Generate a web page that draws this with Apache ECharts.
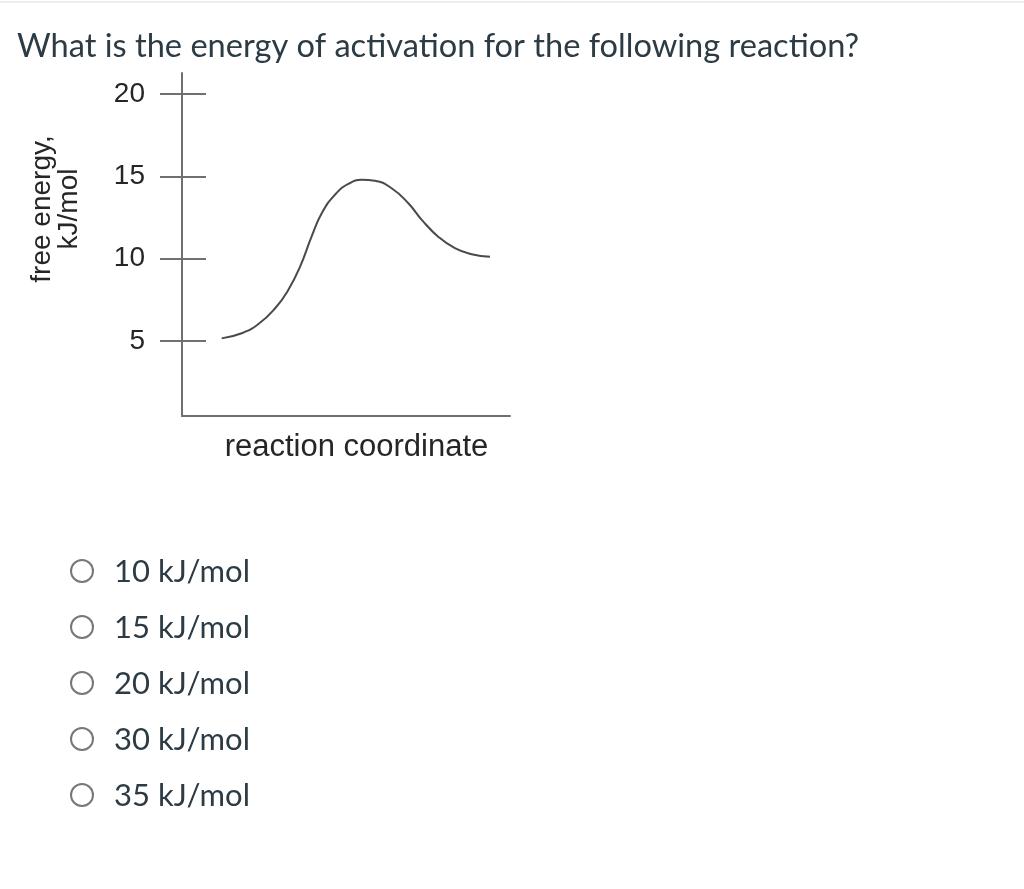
<!DOCTYPE html>
<html>
<head>
<meta charset="utf-8">
<style>
  html, body { margin: 0; padding: 0; background: #ffffff; }
  #chart { width: 1024px; height: 889px; }
</style>
<script src="https://cdn.jsdelivr.net/npm/echarts@6/dist/echarts.min.js"></script>
</head>
<body>
<div id="chart"></div>
<script>
// ---- data ----
var questionText = 'What is the energy of activation for the following reaction?';
var yTitleLines = ['free energy,', 'kJ/mol'];
var xTitle = 'reaction coordinate';
var yTickValues = [5, 10, 15, 20];
var curveX = [12.1, 18.2, 23.3, 28.4, 32.4, 36.0, 39.5, 42.6, 46.6, 50.7, 54.8, 58.8, 63.9, 69.0, 73.1, 78.1, 83.2, 88.3, 93.9];
var curveY = [5.16, 5.47, 6.03, 6.99, 8.1, 9.52, 11.34, 12.76, 13.88, 14.54, 14.79, 14.73, 14.28, 13.37, 12.36, 11.34, 10.64, 10.27, 10.12];
var answerChoices = ['10 kJ/mol', '15 kJ/mol', '20 kJ/mol', '30 kJ/mol', '35 kJ/mol'];

var curveData = curveX.map(function (x, i) { return [x, curveY[i]]; });

var chart = echarts.init(document.getElementById('chart'), null, { renderer: 'canvas' });

var axisGray = '#707070';
var chartText = '#262626';
var pageText = '#2d3b45';

var graphics = [
  { type: 'rect', shape: { x: 0, y: 1, width: 1024, height: 2 }, style: { fill: '#eeeeee' }, silent: true },
  {
    type: 'text', x: 17, y: 46,
    style: { text: questionText, font: '32.6px Lato', fill: pageText, textVerticalAlign: 'middle', textAlign: 'left' }
  },
  {
    type: 'text', x: 56, y: 209, rotation: Math.PI / 2,
    style: {
      text: yTitleLines.join('\n'), font: '28px "Liberation Sans"', fill: chartText,
      textAlign: 'center', textVerticalAlign: 'middle', lineHeight: 27
    }
  }
];

answerChoices.forEach(function (label, i) {
  var cy = 572 + i * 56;
  graphics.push({
    type: 'circle', shape: { cx: 82, cy: cy - 1, r: 11 },
    style: { fill: '#ffffff', stroke: '#777777', lineWidth: 2 }
  });
  graphics.push({
    type: 'text', x: 114, y: cy,
    style: { text: label, font: '31px Lato', fill: pageText, textVerticalAlign: 'middle', textAlign: 'left' }
  });
});

var option = {
  backgroundColor: '#ffffff',
  animation: false,
  grid: { left: 182, top: 73, width: 328, height: 343, containLabel: false },
  xAxis: {
    type: 'value', min: 0, max: 100,
    axisLine: { show: true, lineStyle: { color: axisGray, width: 2 } },
    axisTick: { show: false }, axisLabel: { show: false }, splitLine: { show: false },
    name: xTitle, nameLocation: 'middle', nameGap: 16,
    nameTextStyle: { fontFamily: 'Liberation Sans', fontSize: 31, color: chartText, padding: [0, 0, 0, 21], verticalAlign: 'top' }
  },
  yAxis: [
    {
      type: 'value', min: 0.445, max: 21.28, position: 'left',
      axisLine: { show: true, lineStyle: { color: axisGray, width: 2 } },
      axisTick: { show: true, inside: false, length: 22, customValues: yTickValues, lineStyle: { color: axisGray, width: 2 } },
      axisLabel: { show: true, margin: 37, customValues: yTickValues, fontFamily: 'Liberation Sans', fontSize: 28, color: chartText },
      splitLine: { show: false }
    },
    {
      type: 'value', min: 0.445, max: 21.28, position: 'left', offset: 0,
      axisLine: { show: false },
      axisTick: { show: true, inside: true, length: 24, customValues: yTickValues, lineStyle: { color: axisGray, width: 2 } },
      axisLabel: { show: false }, splitLine: { show: false }
    }
  ],
  graphic: graphics,
  series: [{
    type: 'line', data: curveData, smooth: 0.5, showSymbol: false,
    lineStyle: { color: '#4a4a4a', width: 2 }, silent: true
  }]
};

chart.setOption(option);
</script>
</body>
</html>
